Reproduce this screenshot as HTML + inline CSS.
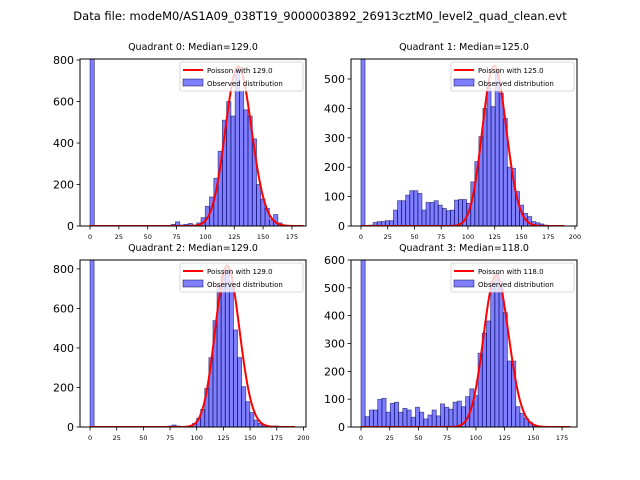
<!DOCTYPE html>
<html><head><meta charset="utf-8"><style>
body{margin:0;background:#fff;}
svg{display:block;font-family:"DejaVu Sans","Liberation Sans",sans-serif;}
</style></head><body>
<svg id="fig" width="640" height="480">
<text x="320" y="20" font-size="11.5" text-anchor="middle">Data file: modeM0/AS1A09_038T19_9000003892_26913cztM0_level2_quad_clean.evt</text>
</svg>
<script>
const titles = ["Quadrant 0: Median=129.0","Quadrant 1: Median=125.0","Quadrant 2: Median=129.0","Quadrant 3: Median=118.0"];
const medians = [129, 125, 129, 118];
const binWidths = [3.7, 3.8, 3.84, 3.64];
const poissonScale = [21900, 15270, 23200, 14850];
const counts0 = [3000,0,0,0,0,0,0,0,0,0,0,0,0,0,0,0,0,0,3,8,20,5,8,12,5,15,40,95,140,230,360,510,600,530,760,650,560,530,420,200,130,85,30,55,15,5,2,1,1,1];
const counts1 = [3000,0,3,12,15,15,18,18,54,86,86,105,120,120,111,54,80,80,86,71,60,52,54,88,90,90,77,150,219,304,400,474,406,530,451,366,200,196,117,71,43,32,15,11,7,3,2,1,1,1];
const counts2 = [3000,0,0,0,0,0,0,0,0,0,0,0,0,0,0,0,0,0,0,5,10,5,0,3,5,18,44,89,196,351,538,714,770,795,735,491,351,204,128,73,35,18,10,5,4,5,2,1,1,1];
const counts3 = [3000,37,61,61,99,103,53,85,89,53,67,61,35,71,53,29,43,61,40,83,71,64,89,93,73,109,137,113,265,337,381,522,552,522,411,237,237,73,49,31,17,7,4,1,1,1,1,1,1,1];
const allCounts = [counts0, counts1, counts2, counts3];
const xMins = [-8.7, -9.3, -9.4, -8.7];
const xMaxs = [187.2, 201.9, 202.4, 188];
const yMaxs = [805, 568, 845, 600];
const xTicks0 = [0,25,50,75,100,125,150,175];
const xTicks1 = [0,25,50,75,100,125,150,175,200];
const allXTicks = [xTicks0, xTicks1, xTicks1, xTicks0];
const yTicks0 = [0,200,400,600,800];
const yTicks1 = [0,100,200,300,400,500];
const yTicks3 = [0,100,200,300,400,500,600];
const allYTicks = [yTicks0, yTicks1, yTicks0, yTicks3];
const boxes = [[80,59,226,167],[351,59,226,167],[80,260,226,167],[351,260,226,167]];
const NS="http://www.w3.org/2000/svg";
const fig=document.getElementById('fig');
function mk(tag,attrs,parent){const e=document.createElementNS(NS,tag);for(const k in attrs)e.setAttribute(k,attrs[k]);(parent||fig).appendChild(e);return e;}
function lgamma(n){let s=0;for(let i=2;i<=n;i++)s+=Math.log(i);return s;}
for(let q=0;q<4;q++){
  const [bx,by,bw,bh]=boxes[q];
  const g=mk('g',{});
  
  
  const sx=v=>bx+(v-xMins[q])/(xMaxs[q]-xMins[q])*bw;
  const sy=v=>by+bh-v/yMaxs[q]*bh;
  const cid='clip'+q;
  const cp=mk('clipPath',{id:cid},g);mk('rect',{x:bx,y:by,width:bw,height:bh},cp);
  const t=mk('text',{x:bx+bw/2,y:by-9,'font-size':'9.5','text-anchor':'middle'},g);t.textContent=titles[q];
  
  
  const bars=mk('g',{'clip-path':'url(#'+cid+')'},g);
  allCounts[q].forEach((c,i)=>{
    const x0=sx(i*binWidths[q]),x1=sx((i+1)*binWidths[q]);
    const r=mk('rect',{x:x0,y:sy(c),width:x1-x0,height:sy(0)-sy(c),fill:'rgba(0,0,255,0.5)',stroke:'rgba(0,0,80,0.6)','stroke-width':'0.8'},bars);
    
    
  });
  const lam=medians[q];let d='';
  const xmax=binWidths[q]*50;
  for(let k=0;k<=Math.floor(xmax);k++){
    const p=Math.exp(k*Math.log(lam)-lam-lgamma(k))*poissonScale[q];
    d+=(k?'L':'M')+sx(k).toFixed(2)+','+sy(p).toFixed(2);
  }
  const pl=mk('path',{d:d,fill:'none',stroke:'#ff0000','stroke-width':'2'},bars);
  
  
  mk('rect',{x:bx,y:by,width:bw,height:bh,fill:'none',stroke:'#000','stroke-width':'1'},g);
  allXTicks[q].forEach(v=>{
    const x=sx(v);mk('line',{x1:x,x2:x,y1:by+bh,y2:by+bh+3.5,stroke:'#000','stroke-width':'0.8'},g);
    const tt=mk('text',{x:x,y:by+bh+13,'font-size':'6.5','text-anchor':'middle'},g);tt.textContent=v;
    
    
  });
  allYTicks[q].forEach(v=>{
    const y=sy(v);mk('line',{x1:bx-3.5,x2:bx,y1:y,y2:y,stroke:'#000','stroke-width':'0.8'},g);
    const tt=mk('text',{x:bx-6,y:y+4,'font-size':'11','text-anchor':'end'},g);tt.textContent=v;
    
    
  });
  const lg=mk('g',{},g);
  
  
  const lx=bx+bw-126,ly=by+3;
  mk('rect',{x:lx,y:ly,width:123,height:29,fill:'rgba(255,255,255,0.8)',stroke:'#ccc','stroke-width':'0.8',rx:2},lg);
  mk('line',{x1:lx+3,x2:lx+23,y1:ly+8,y2:ly+8,stroke:'#ff0000','stroke-width':'2'},lg);
  const l1=mk('text',{x:lx+27,y:ly+11,'font-size':'7'},lg);l1.textContent='Poisson with '+medians[q].toFixed(1);
  mk('rect',{x:lx+3,y:ly+17,width:20,height:7,fill:'rgba(0,0,255,0.5)',stroke:'rgba(0,0,80,0.6)','stroke-width':'0.8'},lg);
  const l2=mk('text',{x:lx+27,y:ly+24,'font-size':'7'},lg);l2.textContent='Observed distribution';
}
</script>
</body></html>
